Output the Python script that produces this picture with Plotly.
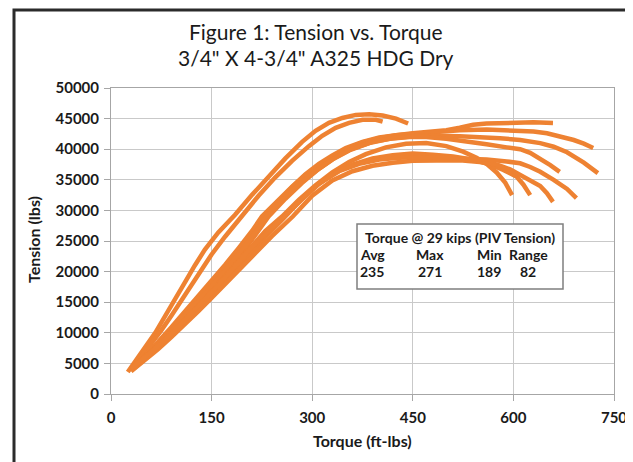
import plotly.graph_objects as go

# ---- data (torque ft-lbs, tension lbs), one pair of lists per test run ----
run1_torque = [25, 40, 55, 66, 80, 95, 110, 125, 140, 160, 185, 210, 235, 260, 285, 305, 325, 345, 365, 385, 405, 425, 443]
run1_tension = [3600, 5800, 8300, 10000, 12500, 15400, 18200, 21000, 23600, 26400, 29300, 32500, 35600, 38500, 41200, 43000, 44300, 45100, 45600, 45700, 45500, 45000, 44200]

run2_torque = [30, 45, 60, 75, 90, 105, 120, 135, 150, 170, 195, 220, 245, 270, 295, 315, 335, 355, 375, 395, 405]
run2_tension = [4000, 6100, 8400, 10400, 12800, 15300, 17900, 20400, 22800, 25700, 29100, 32400, 35400, 38100, 40500, 42200, 43500, 44300, 44800, 44800, 44500]

run3_torque = [30, 50, 70, 90, 110, 130, 150, 170, 190, 210, 230, 250, 270, 290, 310, 330, 350, 375, 400, 425, 450, 475, 500, 520, 540, 560, 580, 600, 630, 659]
run3_tension = [4200, 6100, 8200, 10500, 12900, 15300, 17800, 20400, 23100, 26000, 29000, 31500, 33800, 35800, 37400, 38800, 40000, 41100, 41800, 42300, 42600, 42800, 43100, 43500, 44000, 44200, 44300, 44400, 44400, 44300]

run4_torque = [30, 50, 70, 90, 110, 130, 150, 170, 190, 210, 225, 250, 270, 290, 310, 330, 350, 375, 400, 425, 450, 480, 520, 560, 600, 630, 650, 670, 690, 705, 719]
run4_tension = [4000, 6200, 8500, 10900, 13400, 15900, 18500, 21100, 23800, 26600, 29000, 31800, 33900, 35900, 37600, 39000, 40200, 41200, 41900, 42300, 42500, 42800, 43100, 43200, 43100, 42900, 42600, 42100, 41500, 40900, 40200]

run5_torque = [30, 50, 70, 90, 110, 130, 150, 170, 190, 210, 235, 260, 285, 310, 335, 360, 390, 420, 450, 480, 520, 550, 580, 610, 640, 660, 680, 705, 726]
run5_tension = [4300, 6000, 8000, 10200, 12500, 14900, 17300, 19800, 22400, 25200, 29000, 31900, 34500, 36800, 38700, 40100, 41200, 41800, 42100, 42200, 42100, 42000, 41800, 41500, 41000, 40400, 39500, 37800, 36100]

run6_torque = [30, 50, 70, 90, 110, 130, 150, 170, 190, 210, 232, 255, 280, 305, 330, 355, 385, 415, 445, 470, 500, 530, 560, 590, 610, 625, 640, 655, 669]
run6_tension = [3900, 5900, 8000, 10300, 12700, 15100, 17600, 20200, 22800, 25600, 29000, 31700, 34200, 36400, 38300, 39800, 41000, 41700, 42000, 42000, 41700, 41300, 40800, 40300, 40000, 39400, 38500, 37400, 36300]

run7_torque = [30, 50, 70, 90, 110, 130, 150, 170, 190, 210, 230, 255, 280, 305, 330, 355, 380, 410, 440, 470, 500, 525, 545, 560, 575, 588, 598]
run7_tension = [4000, 5800, 7800, 9900, 12100, 14400, 16800, 19200, 21700, 24200, 26600, 29000, 31700, 34100, 36200, 37900, 39200, 40300, 40900, 41000, 40500, 39600, 38600, 37600, 36200, 34500, 32500]

run8_torque = [30, 50, 70, 90, 110, 130, 150, 170, 190, 210, 235, 260, 285, 310, 335, 360, 390, 420, 450, 480, 510, 540, 565, 585, 605, 615, 625]
run8_tension = [3800, 5600, 7500, 9500, 11700, 13900, 16200, 18600, 21000, 23400, 26200, 29000, 31900, 34300, 36200, 37500, 38500, 39000, 39300, 39100, 38800, 38300, 37500, 36600, 35500, 34200, 32500]

run9_torque = [30, 50, 70, 90, 110, 130, 150, 170, 190, 210, 240, 271, 300, 330, 360, 390, 420, 450, 485, 520, 550, 575, 595, 610, 625, 640, 650, 659]
run9_tension = [3700, 5400, 7300, 9300, 11300, 13500, 15700, 18000, 20300, 22600, 25800, 29000, 32400, 34900, 36400, 37300, 37800, 38100, 38200, 38200, 37900, 37500, 36700, 35800, 35000, 34000, 32800, 31400]

run10_torque = [30, 50, 70, 90, 110, 130, 150, 170, 190, 210, 235, 258, 285, 310, 340, 370, 400, 430, 460, 500, 530, 560, 590, 610, 625, 640, 660, 680, 694]
run10_tension = [4100, 5900, 7800, 9800, 12000, 14200, 16600, 19000, 21500, 24000, 26600, 29000, 32000, 34400, 36400, 37600, 38300, 38600, 38700, 38600, 38500, 38300, 38000, 37700, 37100, 36300, 35000, 33500, 32000]

table_title = "Torque @ 29 kips (PIV Tension)"
table_headers = ["Avg", "Max", "Min", "Range"]
table_values = [235, 271, 189, 82]

title_lines = ["Figure 1: Tension vs. Torque", "3/4\" X 4-3/4\" A325 HDG Dry"]
x_title = "Torque (ft-lbs)"
y_title = "Tension (lbs)"

runs = [
    (run1_torque, run1_tension), (run2_torque, run2_tension),
    (run3_torque, run3_tension), (run4_torque, run4_tension),
    (run5_torque, run5_tension), (run6_torque, run6_tension),
    (run7_torque, run7_tension), (run8_torque, run8_tension),
    (run9_torque, run9_tension), (run10_torque, run10_tension),
]

ORANGE = "#EE8232"
FONT = "Lato"
TXT = "#1A1A1A"

fig = go.Figure()
for tq, tn in runs:
    fig.add_trace(go.Scatter(
        x=tq, y=tn, mode="lines",
        line=dict(color=ORANGE, width=4.5),
        showlegend=False, hoverinfo="x+y",
    ))

# the page body has an 8px margin; geometry below is in screen pixels
OFF = 8
W, H = 633 - OFF, 462 - OFF
PL, PR, PT, PB = 111, 614, 88, 394          # plot area on screen
L, T = PL - OFF, PT - OFF
R, B = W - (PR - OFF), H - (PB - OFF)
pw, ph = W - L - R, H - T - B

def px(xs):
    return (xs - PL) / pw

def py(ys):
    return (PB - ys) / ph

axis_common = dict(
    showgrid=True, gridcolor="#C9C9C9", gridwidth=1,
    showline=True, linecolor="#A6A6A6", linewidth=1, mirror=True,
    ticks="outside", ticklen=6, tickcolor="#A6A6A6",
    tickfont=dict(family=FONT, size=15, color=TXT, weight="bold"),
    zeroline=False, automargin=False,
)

fig.update_layout(
    width=W, height=H,
    margin=dict(l=L, r=R, t=T, b=B, autoexpand=False),
    paper_bgcolor="white", plot_bgcolor="white",
    xaxis=dict(range=[0, 750], dtick=150, tick0=0, ticklabelstandoff=4, **axis_common),
    yaxis=dict(range=[0, 50000], dtick=5000, tick0=0, tickformat="d", ticklabelstandoff=2, **axis_common),
    font=dict(family=FONT),
)

shapes = [
    # outer frame (right/bottom sides run off the canvas)
    dict(type="rect", xref="paper", yref="paper",
         x0=px(14), x1=px(660), y0=py(10), y1=py(490),
         line=dict(color="#2B2B2B", width=3), fillcolor="rgba(0,0,0,0)", layer="above"),
    # table box
    dict(type="rect", xref="paper", yref="paper",
         x0=px(357), x1=px(563), y0=py(224), y1=py(289),
         line=dict(color="#7F7F7F", width=1.5), fillcolor="white", layer="above"),
]
fig.update_layout(shapes=shapes)

ann = []
for txt, ys in zip(title_lines, [31, 58]):
    ann.append(dict(text=txt, x=px(316), y=py(ys), xref="paper", yref="paper",
                    showarrow=False, xanchor="center", yanchor="middle",
                    font=dict(family=FONT, size=21, color=TXT)))
ann.append(dict(text=x_title, x=px(362), y=py(440), xref="paper", yref="paper",
                showarrow=False, xanchor="center", yanchor="middle",
                font=dict(family=FONT, size=16, color=TXT, weight="bold")))
ann.append(dict(text=y_title, x=px(33), y=py(240), xref="paper", yref="paper",
                showarrow=False, xanchor="center", yanchor="middle", textangle=-90,
                font=dict(family=FONT, size=16, color=TXT, weight="bold")))
ann.append(dict(text=table_title, x=px(460), y=py(237), xref="paper", yref="paper",
                showarrow=False, xanchor="center", yanchor="middle",
                font=dict(family=FONT, size=14, color=TXT, weight="bold")))
col_x = [372, 430, 489, 528]
for cx, h, v in zip(col_x, table_headers, table_values):
    ann.append(dict(text=h, x=px(cx), y=py(254), xref="paper", yref="paper",
                    showarrow=False, xanchor="center", yanchor="middle",
                    font=dict(family=FONT, size=14, color=TXT, weight="bold")))
    ann.append(dict(text=str(v), x=px(cx), y=py(271), xref="paper", yref="paper",
                    showarrow=False, xanchor="center", yanchor="middle",
                    font=dict(family=FONT, size=14, color=TXT, weight="bold")))
fig.update_layout(annotations=ann)

fig.write_html("out.html")
